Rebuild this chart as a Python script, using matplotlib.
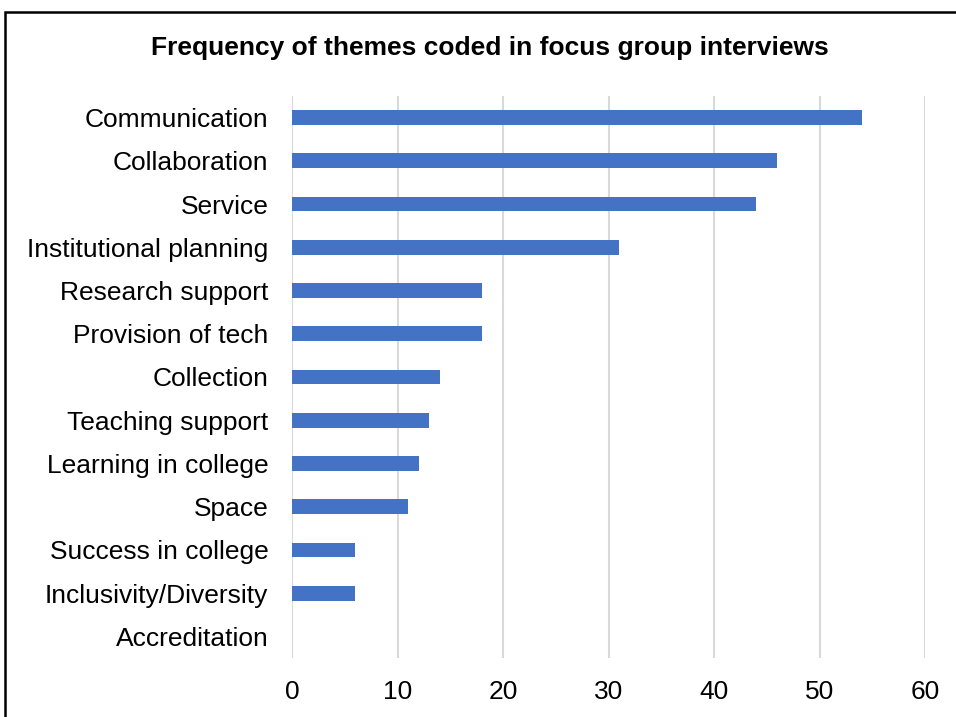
import matplotlib.pyplot as plt
from matplotlib.patches import Rectangle

plt.rcParams['font.family'] = ['Liberation Sans', 'DejaVu Sans']

themes = ['Communication', 'Collaboration', 'Service', 'Institutional planning',
          'Research support', 'Provision of tech', 'Collection', 'Teaching support',
          'Learning in college', 'Space', 'Success in college',
          'Inclusivity/Diversity', 'Accreditation']
counts = [54, 46, 44, 31, 18, 18, 14, 13, 12, 11, 6, 6, 0]
x_ticks = [0, 10, 20, 30, 40, 50, 60]

fig = plt.figure(figsize=(9.56, 7.17), dpi=100)
ax = fig.add_axes([292 / 956, 1 - 658 / 717, 633 / 956, 562 / 717])

pos = list(range(len(themes)))
ax.barh(pos, counts, height=0.34, color='#4472C4', zorder=3)
ax.set_ylim(len(themes) - 0.5, -0.5)
ax.set_xlim(0, 60)
ax.set_xticks(x_ticks)
ax.set_yticks(pos)
ax.set_yticklabels(themes, fontsize=19)
ax.tick_params(axis='x', labelsize=19, length=0, pad=16)
ax.tick_params(axis='y', length=0, pad=17)
ax.xaxis.grid(True, color='#d9d9d9', linewidth=1.5, zorder=0)
for s in ax.spines.values():
    s.set_visible(False)

fig.text(0.512, 1 - 48 / 717, 'Frequency of themes coded in focus group interviews',
         ha='center', va='center', fontsize=19, fontweight='bold')

# outer frame, runs past the right and bottom edges
fig.patches.append(Rectangle((5 / 956, -0.1), 1.2, 1.1 - 12 / 717,
                             transform=fig.transFigure, fill=False,
                             edgecolor='black', linewidth=1.8))

fig.savefig('out.png', dpi=100)
